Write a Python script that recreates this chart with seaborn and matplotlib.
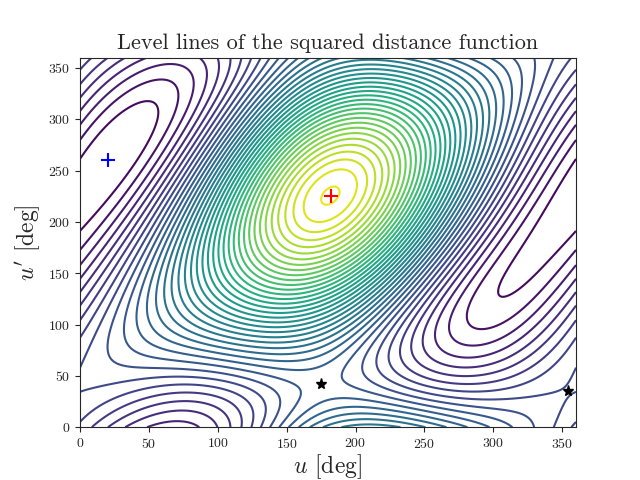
import numpy as np
import matplotlib
matplotlib.use("Agg")
import matplotlib.pyplot as plt
import seaborn as sns

# orbit parameters (estimated): orbit 1 has a=1 in the reference plane
a1, e1, w1_rad = 1.0, 0.505, 2.448
a2, e2, w2_rad, inc2_rad = 0.478, 0.029, 4.855, 0.451
n_levels = 40
max_pt = (182, 225)
min_pt = (20, 260)
saddle_u = [175, 354]
saddle_up = [42, 35]

def pos(a, e, w, inc, u):
    x = a * (np.cos(u) - e)
    y = a * np.sqrt(1 - e**2) * np.sin(u)
    X = x*np.cos(w) - y*np.sin(w)
    Y = x*np.sin(w) + y*np.cos(w)
    return X, Y*np.cos(inc), Y*np.sin(inc)

sns.set_style("ticks")
plt.rcParams.update({"font.family": "serif", "font.serif": ["cmr10"],
                     "axes.formatter.use_mathtext": True,
                     "mathtext.fontset": "cm", "xtick.direction": "out", "ytick.direction": "out"})
deg = np.linspace(0, 360, 361)
U, UP = np.meshgrid(deg, deg)
p1 = pos(a1, e1, w1_rad, 0.0, np.radians(U))
p2 = pos(a2, e2, w2_rad, inc2_rad, np.radians(UP))
D = sum((p - q)**2 for p, q in zip(p1, p2))

fig, ax = plt.subplots(figsize=(6.4, 4.8), dpi=100)
ax.contour(U, UP, D, levels=n_levels, cmap="viridis", linewidths=1.5)
ax.plot(*max_pt, "r+", ms=10, mew=1.5)
ax.plot(*min_pt, "b+", ms=10, mew=1.5)
ax.plot(saddle_u, saddle_up, "k*", ms=8, ls="none")
ax.set_xlim(0, 360); ax.set_ylim(0, 360)
ax.set_xticks(range(0, 351, 50)); ax.set_yticks(range(0, 351, 50))
ax.set_xlabel(r"$u$ [deg]", fontsize=17, labelpad=1)
ax.set_ylabel(r"$u'$ [deg]", fontsize=17)
ax.set_title("Level lines of the squared distance function", fontsize=16)
fig.savefig("out.png")
